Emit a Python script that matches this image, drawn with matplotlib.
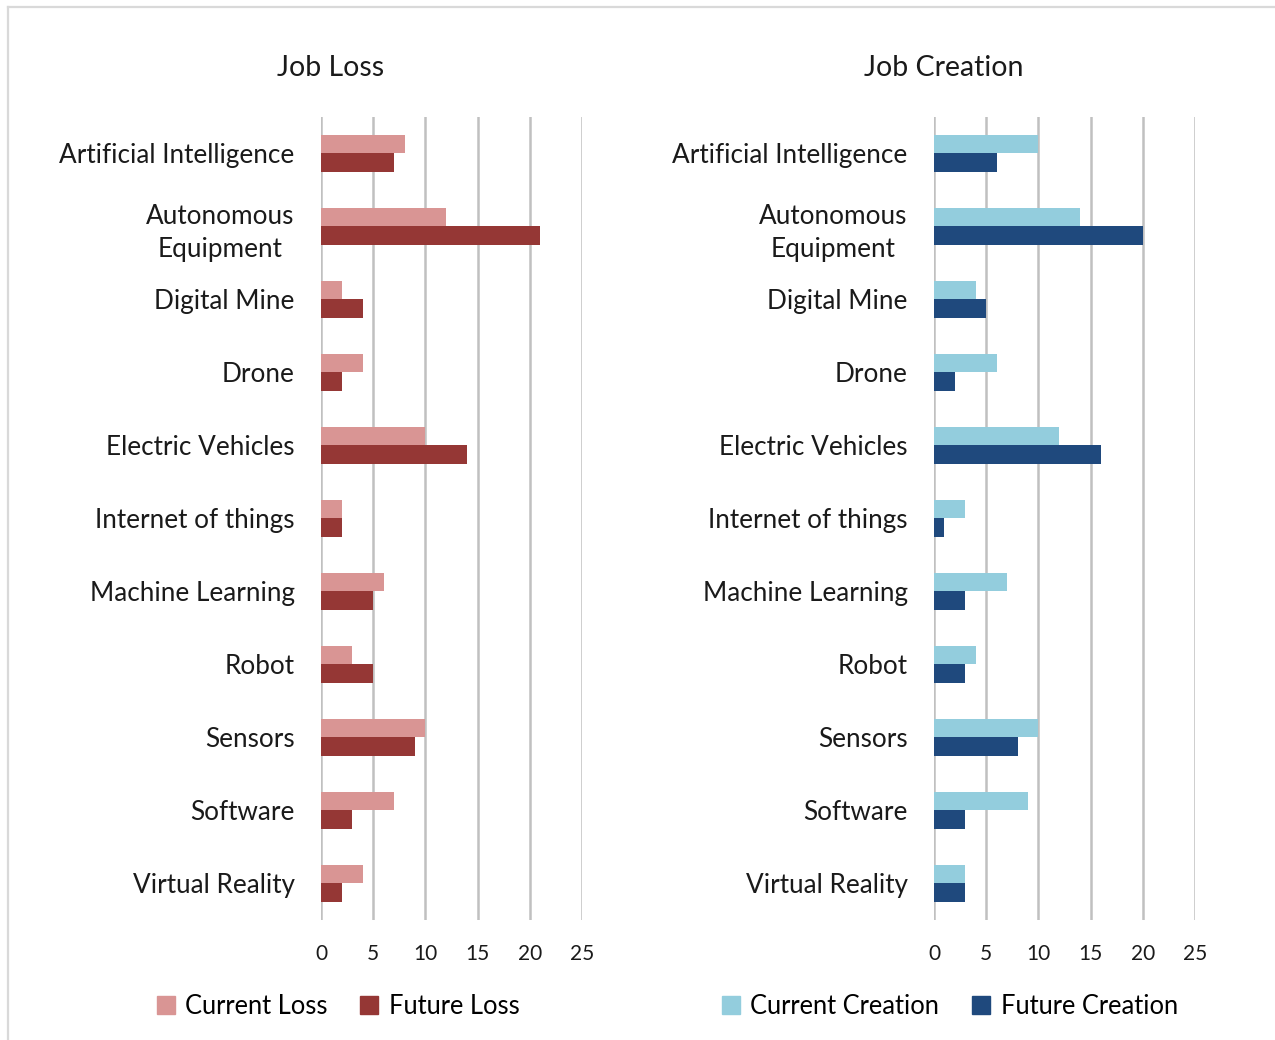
import matplotlib
matplotlib.use("Agg")
import matplotlib.pyplot as plt
from matplotlib.lines import Line2D
from matplotlib.patches import Patch
import numpy as np

plt.rcParams["font.family"] = ["Lato", "DejaVu Sans"]

categories = ["Artificial Intelligence", "Autonomous\nEquipment", "Digital Mine",
              "Drone", "Electric Vehicles", "Internet of things",
              "Machine Learning", "Robot", "Sensors", "Software", "Virtual Reality"]

current_loss = [8, 12, 2, 4, 10, 2, 6, 3, 10, 7, 4]
future_loss = [7, 21, 4, 2, 14, 2, 5, 5, 9, 3, 2]

current_creation = [10, 14, 4, 6, 12, 3, 7, 4, 10, 9, 3]
future_creation = [6, 20, 5, 2, 16, 1, 3, 3, 8, 3, 3]

x_ticks = [0, 5, 10, 15, 20, 25]

fig = plt.figure(figsize=(12.75, 10.4), dpi=100)

# light frame on the left and top edge
fig.add_artist(Line2D([8 / 1275, 8 / 1275], [0, 1 - 7 / 1040], color="#d9d9d9", lw=1.6,
                      transform=fig.transFigure))
fig.add_artist(Line2D([8 / 1275, 1], [1 - 7 / 1040, 1 - 7 / 1040], color="#d9d9d9", lw=1.6,
                      transform=fig.transFigure))

bar_h = 0.26
y = np.arange(len(categories))


def panel(left, cur, fut, c_cur, c_fut, title, title_x, names, legend_x):
    ax = fig.add_axes([left, 0.1154, 0.2047, 0.7721])
    ax.barh(y - bar_h / 2, cur, height=bar_h, color=c_cur, zorder=3)
    ax.barh(y + bar_h / 2, fut, height=bar_h, color=c_fut, zorder=3)
    ax.set_xlim(0, 25)
    ax.set_ylim(len(categories) - 0.5, -0.5)
    ax.set_xticks(x_ticks)
    ax.set_yticks(y)
    ax.set_yticklabels(categories, fontsize=18.8, color="#1a1a1a")
    for lab in ax.get_yticklabels():
        lab.set_multialignment("center")
        lab.set_linespacing(1.4)
    ax.tick_params(axis="y", length=0, pad=19)
    ax.tick_params(axis="x", length=0, pad=17, labelsize=15, labelcolor="#1a1a1a")
    for s in ax.spines.values():
        s.set_visible(False)
    ax.grid(axis="x", color="#c0c0c0", lw=1.8, zorder=0)
    ax.set_axisbelow(True)
    fig.text(title_x / 1275, 1 - 68 / 1040, title, ha="center", va="center",
             fontsize=20.5, color="#1a1a1a")
    handles = [Patch(color=c_cur), Patch(color=c_fut)]
    fig.legend(handles, names, loc="center", ncol=2,
               bbox_to_anchor=(legend_x / 1275, 1 - 1006 / 1040),
               frameon=False, fontsize=18.4, handlelength=0.7, handleheight=0.7,
               handletextpad=0.4, columnspacing=1.3)
    return ax


panel(321 / 1275, current_loss, future_loss, "#d99594", "#953735",
      "Job Loss", 331, ["Current Loss", "Future Loss"], 338)
panel(934 / 1275, current_creation, future_creation, "#93cddd", "#1f497d",
      "Job Creation", 944, ["Current Creation", "Future Creation"], 950)

fig.savefig("out.png", dpi=100)
